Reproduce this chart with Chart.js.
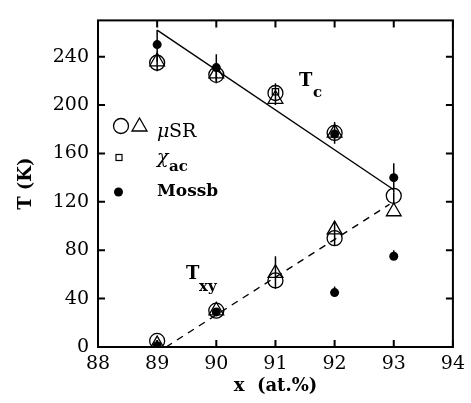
<!DOCTYPE html>
<html>
<head>
<meta charset="utf-8">
<script src="https://cdn.jsdelivr.net/npm/chart.js@4.4.0/dist/chart.umd.min.js"></script>
<style>
html,body{margin:0;padding:0;background:#fff;}
#wrap{width:471px;height:403px;}
</style>
</head>
<body>
<div id="wrap"><canvas id="c" width="471" height="403"></canvas></div>
<script>
// ---- data ----
const xTicks = [88, 89, 90, 91, 92, 93, 94];
const yTicks = [0, 40, 80, 120, 160, 200, 240];
const tcX = [89, 90, 91, 92, 93];
const tcCircle = [235, 225, 210, 177, 125];
const tcTriangle = [236, 226, 205, 177, 112];
const txyX = [89, 90, 91, 92];
const txyCircle = [5, 30, 55, 90];
const txyTriangle = [2, 30, 61, 97];
const mossX = [89, 90, 92, 93, 89, 90, 92, 93];
const mossT = [250, 231, 176, 140, 1, 29, 45, 75];
const chiX = [91];
const chiT = [211];
const errX  = [89, 89, 90, 90, 91, 91, 92, 92, 93, 93, 92, 93];
const errLo = [236, 228, 220, 218, 200, 48, 168, 84, 128, 118, 42, 72];
const errHi = [262, 242, 242, 232, 218, 75, 186, 104, 152, 128, 50, 80];
const tcFitX = [89, 93];
const tcFitT = [262, 130];
const txyFitX = [89.15, 92.93];
const txyFitT = [0, 118];

const pts = (xs, ys) => xs.map((x, i) => ({x: x, y: ys[i]}));

const SERIF = '"DejaVu Serif", serif';

const decor = {
  id: 'decor',
  afterDatasetsDraw(chart) {
    const ctx = chart.ctx;
    const a = chart.chartArea;
    const xs = chart.scales.x, ys = chart.scales.y;
    ctx.save();
    ctx.strokeStyle = '#000';
    // error bars
    ctx.lineWidth = 1.5;
    for (let i = 0; i < errX.length; i++) {
      const px = xs.getPixelForValue(errX[i]);
      ctx.beginPath();
      ctx.moveTo(px, ys.getPixelForValue(errLo[i]));
      ctx.lineTo(px, ys.getPixelForValue(errHi[i]));
      ctx.stroke();
    }
    // frame
    ctx.lineWidth = 2;
    ctx.strokeRect(a.left, a.top, a.right - a.left, a.bottom - a.top);
    // inward ticks
    const tl = 7;
    ctx.beginPath();
    xTicks.forEach(v => {
      const p = xs.getPixelForValue(v);
      ctx.moveTo(p, a.bottom); ctx.lineTo(p, a.bottom - tl);
      ctx.moveTo(p, a.top); ctx.lineTo(p, a.top + tl);
    });
    yTicks.forEach(v => {
      const p = ys.getPixelForValue(v);
      ctx.moveTo(a.left, p); ctx.lineTo(a.left + tl, p);
      ctx.moveTo(a.right, p); ctx.lineTo(a.right - tl, p);
    });
    ctx.stroke();

    // legend markers
    ctx.lineWidth = 1.3;
    ctx.beginPath(); ctx.arc(121, 126, 7.5, 0, Math.PI * 2); ctx.stroke();
    ctx.beginPath();
    ctx.moveTo(139.5, 118); ctx.lineTo(147, 131); ctx.lineTo(132, 131); ctx.closePath(); ctx.stroke();
    ctx.lineWidth = 1.2;
    ctx.strokeRect(116, 154.5, 6, 6);
    ctx.fillStyle = '#000';
    ctx.beginPath(); ctx.arc(118.5, 192, 4.5, 0, Math.PI * 2); ctx.fill();

    // legend text
    ctx.fillStyle = '#000';
    ctx.textBaseline = 'alphabetic';
    ctx.textAlign = 'left';
    ctx.font = 'italic 19px ' + SERIF;
    ctx.fillText('\u03bc', 157, 137);
    ctx.font = '19px ' + SERIF;
    ctx.fillText('SR', 169, 137);
    ctx.font = 'italic 19px ' + SERIF;
    ctx.fillText('\u03c7', 157, 163);
    ctx.font = 'bold 15px ' + SERIF;
    ctx.fillText('ac', 169, 171);
    ctx.font = 'bold 17px ' + SERIF;
    ctx.fillText('Mossb', 157, 196);

    // curve labels
    ctx.font = 'bold 18px ' + SERIF;
    ctx.fillText('T', 299, 86);
    ctx.font = 'bold 15px ' + SERIF;
    ctx.fillText('c', 313, 97);
    ctx.font = 'bold 18px ' + SERIF;
    ctx.fillText('T', 186, 279);
    ctx.font = 'bold 15px ' + SERIF;
    ctx.fillText('xy', 199, 291);
    ctx.restore();
  }
};

new Chart(document.getElementById('c'), {
  type: 'scatter',
  data: {
    datasets: [
      { label: 'Tc fit', data: pts(tcFitX, tcFitT), showLine: true, borderColor: '#000', borderWidth: 1.4, pointRadius: 0, fill: false },
      { label: 'Txy fit', data: pts(txyFitX, txyFitT), showLine: true, borderColor: '#000', borderWidth: 1.4, borderDash: [7, 6], pointRadius: 0, fill: false },
      { label: 'muSR circle Tc', data: pts(tcX, tcCircle), pointStyle: 'circle', pointRadius: 7.5, borderColor: '#000', backgroundColor: 'rgba(0,0,0,0)', borderWidth: 1.3 },
      { label: 'muSR circle Txy', data: pts(txyX, txyCircle), pointStyle: 'circle', pointRadius: 7.5, borderColor: '#000', backgroundColor: 'rgba(0,0,0,0)', borderWidth: 1.3 },
      { label: 'muSR triangle Tc', data: pts(tcX, tcTriangle), pointStyle: 'triangle', pointRadius: 8.5, borderColor: '#000', backgroundColor: 'rgba(0,0,0,0)', borderWidth: 1.3 },
      { label: 'muSR triangle Txy', data: pts(txyX, txyTriangle), pointStyle: 'triangle', pointRadius: 8.5, borderColor: '#000', backgroundColor: 'rgba(0,0,0,0)', borderWidth: 1.3 },
      { label: 'chi_ac', data: pts(chiX, chiT), pointStyle: 'rect', pointRadius: 4.5, borderColor: '#000', backgroundColor: 'rgba(0,0,0,0)', borderWidth: 1.2 },
      { label: 'Mossb', data: pts(mossX, mossT), pointStyle: 'circle', pointRadius: 4.5, borderColor: '#000', backgroundColor: '#000', borderWidth: 0 }
    ]
  },
  options: {
    responsive: false,
    animation: false,
    events: [],
    layout: { padding: { left: 0, right: 17, top: 7, bottom: 0 } },
    plugins: { legend: { display: false }, tooltip: { enabled: false } },
    scales: {
      x: {
        type: 'linear', min: 88, max: 94,
        ticks: { stepSize: 1, color: '#000', font: { family: SERIF, size: 19 }, padding: 6, maxRotation: 0 },
        grid: { display: false, drawTicks: false },
        border: { display: false },
        title: { display: true, text: 'x  (at.%)', color: '#000', font: { family: SERIF, size: 18, weight: 'bold' }, padding: { top: 0, bottom: 6 } },
        afterFit: s => { s.height = 56; }
      },
      y: {
        type: 'linear', min: 0, max: 270,
        ticks: { stepSize: 40, color: '#000', font: { family: SERIF, size: 19 }, padding: 9 },
        afterBuildTicks: s => { s.ticks = yTicks.map(v => ({ value: v })); },
        grid: { display: false, drawTicks: false },
        border: { display: false },
        title: { display: true, text: 'T (K)', color: '#000', font: { family: SERIF, size: 18, weight: 'bold' }, padding: { top: 16, bottom: 0 } },
        afterFit: s => { s.width = 98; }
      }
    }
  },
  plugins: [decor]
});
</script>
</body>
</html>
